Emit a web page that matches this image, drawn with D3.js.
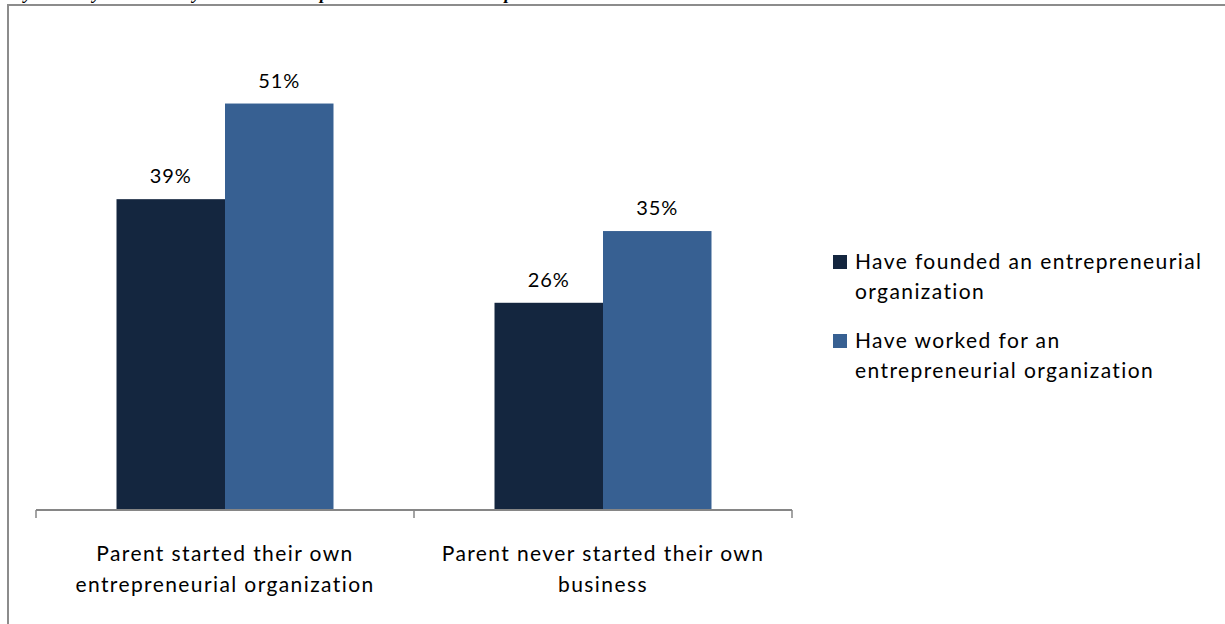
<!DOCTYPE html>
<html>
<head>
<meta charset="utf-8">
<script src="https://cdn.jsdelivr.net/npm/d3@7"></script>
<style>
  html, body { margin: 0; padding: 0; background: #fff; }
  svg { display: block; }
</style>
</head>
<body>
<svg id="chart" width="1225" height="624"></svg>
<script>
const title = "By Ancestry and Industry: Founder Group and Member Ownership";
const categories = [
  ["Parent started their own", "entrepreneurial organization"],
  ["Parent never started their own", "business"]
];
const seriesNames = [
  ["Have founded an entrepreneurial", "organization"],
  ["Have worked for an", "entrepreneurial organization"]
];
const founded = [0.39, 0.26];
const worked = [0.51, 0.35];
const colors = ["#14263f", "#376092"];

const svg = d3.select("#chart");
const font = "Lato, 'Open Sans', sans-serif";

// frame
svg.append("rect").attr("x", 8).attr("y", 5).attr("width", 1400).attr("height", 800)
  .attr("fill", "none").attr("stroke", "#8c8c8c").attr("stroke-width", 2);

// cut-off caption (as in the reference, only the descenders show)
svg.append("text").attr("x", 12).attr("y", -1.5)
  .attr("font-family", "'Liberation Serif', 'Times New Roman', serif")
  .attr("font-weight", "bold").attr("font-style", "italic").attr("font-size", 18)
  .attr("fill", "#000").text(title);

const x0 = d3.scaleBand().domain(d3.range(categories.length)).range([36, 792]).paddingInner(0).paddingOuter(0);
const x1 = d3.scaleBand().domain([0, 1]).range([0, x0.bandwidth()]).paddingOuter(0.742).paddingInner(0);
const y = d3.scaleLinear().domain([0, 0.6]).range([510, 31.8]);

const data = categories.map((c, i) => ({ i, vals: [founded[i], worked[i]] }));

const groups = svg.append("g").selectAll("g").data(data).join("g")
  .attr("transform", d => `translate(${x0(d.i)},0)`);

groups.selectAll("rect").data(d => d.vals.map((v, k) => ({ v, k }))).join("rect")
  .attr("x", d => x1(d.k)).attr("width", x1.bandwidth())
  .attr("y", d => y(d.v)).attr("height", d => y(0) - y(d.v))
  .attr("fill", d => colors[d.k]);

groups.selectAll("text.val").data(d => d.vals.map((v, k) => ({ v, k }))).join("text")
  .attr("class", "val")
  .attr("x", d => x1(d.k) + x1.bandwidth() / 2)
  .attr("y", d => y(d.v) - 16)
  .attr("text-anchor", "middle").attr("font-family", font).attr("font-size", 20)
  .attr("letter-spacing", 1)
  .attr("fill", "#000").text(d => d3.format(".0%")(d.v));

// axis
const axis = svg.append("g").attr("transform", `translate(0,${y(0)})`);
axis.append("line").attr("x1", 36).attr("x2", 792).attr("y1", 0).attr("y2", 0)
  .attr("stroke", "#868686").attr("stroke-width", 2);
const tickPos = d3.range(categories.length + 1).map(i => i < categories.length ? x0(i) : x0(i - 1) + x0.bandwidth());
axis.selectAll("line.tick").data(tickPos).join("line").attr("class", "tick")
  .attr("x1", d => d).attr("x2", d => d).attr("y1", 0).attr("y2", 8)
  .attr("stroke", "#868686").attr("stroke-width", 1.5);

// category labels
svg.append("g").selectAll("text").data(categories.map((c, i) => ({ c, i }))).join("text")
  .attr("x", d => x0(d.i) + x0.bandwidth() / 2).attr("y", 561)
  .attr("text-anchor", "middle").attr("font-family", font).attr("font-size", 21)
  .attr("letter-spacing", 1.4).attr("fill", "#000")
  .each(function (d) {
    d3.select(this).selectAll("tspan").data(d.c).join("tspan")
      .attr("x", x0(d.i) + x0.bandwidth() / 2)
      .attr("dy", (t, j) => j === 0 ? 0 : 31).text(t => t);
  });

// legend
const legend = svg.append("g").attr("transform", "translate(833,255)");
const li = legend.selectAll("g").data(seriesNames.map((n, k) => ({ n, k }))).join("g")
  .attr("transform", d => `translate(0,${d.k * 79})`);
li.append("rect").attr("width", 14).attr("height", 14).attr("fill", d => colors[d.k]);
li.append("text").attr("x", 22).attr("y", 14).attr("font-family", font).attr("font-size", 21)
  .attr("letter-spacing", 1.4).attr("fill", "#000")
  .each(function (d) {
    d3.select(this).selectAll("tspan").data(d.n).join("tspan")
      .attr("x", 22).attr("dy", (t, j) => j === 0 ? 0 : 30).text(t => t);
  });
</script>
</body>
</html>
